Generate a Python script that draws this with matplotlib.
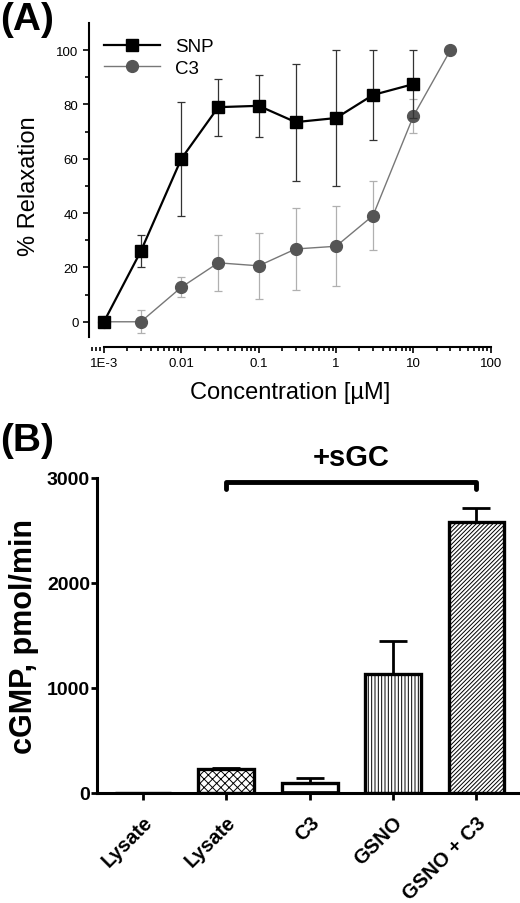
import matplotlib
matplotlib.use('Agg')
import matplotlib.pyplot as plt
from matplotlib.lines import Line2D
import numpy as np

# panel A data
conc_snp = [1e-3, 3e-3, 0.01, 0.03, 0.1, 0.3, 1, 3, 10]
snp = [0, 26, 60, 79, 79.5, 73.5, 75, 83.5, 87.5]
snp_err = [0, 6, 21, 10.5, 11.5, 21.5, 25, 16.5, 12.5]

conc_c3 = [1e-3, 3e-3, 0.01, 0.03, 0.1, 0.3, 1, 3, 10, 30]
c3 = [0, 0, 12.7, 21.7, 20.6, 26.8, 27.8, 39.1, 75.8, 100]
c3_err = [0, 4.2, 3.6, 10.3, 12.1, 15.1, 14.8, 12.8, 6.2, 0]

# panel B data
groups = ['Lysate', 'Lysate', 'C3', 'GSNO', 'GSNO + C3']
cgmp = [0, 225, 92, 1130, 2585]
cgmp_err = [0, 10, 50, 315, 125]
hatches = ['', 'xxxx', '-', '|||||', '////////']

plt.rcParams['font.family'] = ['Liberation Sans', 'DejaVu Sans']
plt.rcParams['hatch.linewidth'] = 0.7
fig = plt.figure(figsize=(5.2, 9.04), dpi=100)

# ---- (A) ----
ax = fig.add_axes([0.171, 0.615, 0.773, 0.3585])
ax.errorbar(conc_snp, snp, yerr=snp_err, color='black', lw=1.6, marker='s', ms=8,
            ecolor='#333333', elinewidth=0.9, capsize=3, capthick=0.9, zorder=3)
ax.errorbar(conc_c3, c3, yerr=c3_err, color='#777777', lw=1.0, marker='o', ms=8.5,
            mfc='#555555', mec='#555555', ecolor='#b0b0b0', elinewidth=0.9, capsize=3,
            capthick=0.9, zorder=2)
ax.set_xscale('log')
ax.set_xlim(10 ** -3.194, 100)
ax.set_ylim(-9.3, 110)
ax.spines['top'].set_visible(False)
ax.spines['right'].set_visible(False)
ax.spines['left'].set_bounds(-5.5, 110)
ax.spines['bottom'].set_bounds(1e-3, 100)
ax.spines['left'].set_linewidth(1.5)
ax.spines['bottom'].set_linewidth(1.5)
ax.set_xticks([1e-3, 0.01, 0.1, 1, 10, 100])
ax.set_xticklabels(['1E-3', '0.01', '0.1', '1', '10', '100'])
ax.set_yticks(range(0, 101, 20))
ax.set_yticks(range(10, 101, 20), minor=True)
ax.tick_params(which='both', direction='out', width=1.2, labelsize=9.5)
ax.tick_params(which='major', length=4)
ax.tick_params(which='minor', length=3)
ax.set_xlabel('Concentration [µM]', fontsize=17, labelpad=8)
ax.set_ylabel('% Relaxation', fontsize=17, labelpad=12)
handles = [Line2D([], [], color='black', lw=1.6, marker='s', ms=8),
           Line2D([], [], color='#777777', lw=1.0, marker='o', ms=8.5,
                  mfc='#555555', mec='#555555')]
ax.legend(handles, ['SNP', 'C3'], loc='upper left', bbox_to_anchor=(0.0, 1.0),
          frameon=False, fontsize=13.5, handlelength=3.0, labelspacing=0.25,
          borderaxespad=0.4)
fig.text(0.0, 0.998, '(A)', fontsize=28, fontweight='bold', va='top', ha='left')

# ---- (B) ----
bx = fig.add_axes([0.1865, 0.1217, 0.81, 0.3485])
pos = np.arange(len(groups))
bx.bar(pos, cgmp, width=0.67, color='white', edgecolor='black', linewidth=2.4,
       hatch=hatches, zorder=2)
bx.errorbar(pos, cgmp, yerr=[np.zeros(len(cgmp)), cgmp_err], fmt='none', ecolor='black',
            elinewidth=2, capsize=10, capthick=2, zorder=1)
bx.set_xlim(-0.55, 4.5)
bx.set_ylim(0, 3000)
bx.spines['top'].set_visible(False)
bx.spines['right'].set_visible(False)
bx.spines['left'].set_linewidth(2.2)
bx.spines['bottom'].set_linewidth(2.2)
bx.set_yticks([0, 1000, 2000, 3000])
bx.set_xticks(pos)
bx.set_xticklabels(groups, rotation=45, ha='right', rotation_mode='anchor',
                   fontsize=14.5, fontweight='bold')
for t in bx.get_yticklabels():
    t.set_fontweight('bold')
bx.tick_params(axis='y', labelsize=14, width=2, length=4, pad=1)
bx.tick_params(axis='x', width=2, length=5, pad=9)
bx.set_ylabel('cGMP, pmol/min', fontsize=22, fontweight='bold', labelpad=6)

# +sGC bracket over groups 1..4
yb = 2960
bx.plot([1, 1, 4, 4], [yb - 70, yb, yb, yb - 70], color='black', lw=3.5, clip_on=False,
        solid_capstyle='round', solid_joinstyle='round')
bx.text(2.5, yb + 110, '+sGC', ha='center', va='bottom', fontsize=21, fontweight='bold')
fig.text(0.0, 0.532, '(B)', fontsize=28, fontweight='bold', va='top', ha='left')

fig.savefig('out.png', dpi=100)
plt.close(fig)
